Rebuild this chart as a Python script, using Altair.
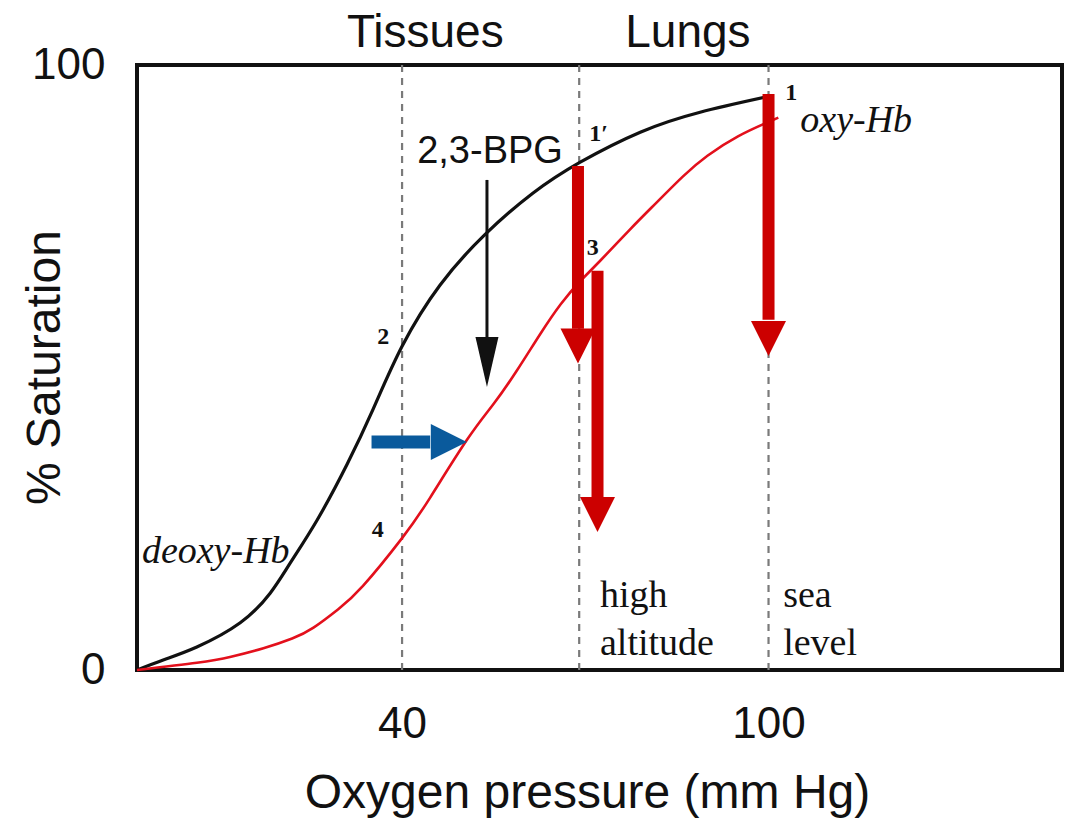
import altair as alt
import pandas as pd

# ---------------- data ----------------
# Oxygen pressure (mm Hg) vs % saturation
black_x = [-3.4, 1.0, 6.4, 13.5, 18.4, 21.7, 26.1, 31.0, 35.3, 40.0, 46.2, 53.6, 61.4, 69.1, 79.0, 88.8, 100.0]
black_y = [0.0, 1.7, 3.8, 7.8, 12.7, 17.7, 24.8, 34.0, 43.2, 53.5, 63.6, 72.0, 78.8, 83.9, 88.9, 92.2, 94.8]

red_x = [-3.4, 6.4, 12.0, 17.3, 22.0, 25.5, 29.5, 33.6, 40.0, 44.6, 50.6, 55.0, 58.8, 62.6, 66.0, 69.2, 72.4, 77.3, 81.7, 86.0, 90.0, 95.0, 99.8, 101.6]
red_y = [0.0, 1.2, 2.2, 3.6, 5.2, 7.0, 10.0, 13.9, 21.8, 28.5, 38.0, 44.0, 49.5, 55.5, 60.5, 64.3, 67.6, 72.8, 77.3, 81.6, 85.0, 88.2, 90.5, 91.3]

# dashed reference pressures (tissues, high altitude lungs, sea level lungs)
ref_x = [40, 69, 100]

# red arrows (drop in saturation)
red_arrow_x = [68.8, 72.0, 100.0]
red_arrow_top = [83.3, 66.0, 95.2]
red_arrow_base = [56.4, 28.6, 57.9]
red_arrow_tip = [50.7, 22.8, 51.7]

# black 2,3-BPG arrow
bpg_x = [53.9]
bpg_top = [81.0]
bpg_base = [55.0]
bpg_tip = [46.8]

# blue right shift arrow
blue_y = [37.7]
blue_start = [35.0]
blue_base = [44.6]
blue_tip = [50.7]

# text annotations
sans_text = ["Tissues", "Lungs", "2,3-BPG"]
sans_x = [43.8, 86.8, 54.4]
sans_y = [103.0, 103.0, 83.8]
sans_size = [46, 46, 38]

num_text = ["2", "4", "1′", "3", "1"]
num_x = [36.9, 36.0, 72.2, 71.2, 103.7]
num_y = [55.0, 23.1, 88.6, 69.8, 95.4]

ital_text = ["deoxy-Hb", "oxy-Hb"]
ital_x = [-2.6, 105.2]
ital_y = [17.7, 88.9]

serif_text = ["high", "altitude", "sea", "level"]
serif_x = [72.4, 72.4, 102.4, 102.4]
serif_y = [10.4, 2.5, 10.4, 2.5]

x_ticks = [40, 100]
y_ticks = [0, 100]

# ---------------- chart ----------------
XS = alt.Scale(domain=[-3.4, 148.05], nice=False, zero=False)
YS = alt.Scale(domain=[0, 100], nice=False, zero=False)

SANS = "Liberation Sans"
SERIF = "Liberation Serif"

AX = alt.Axis(values=x_ticks, ticks=False, domain=False, grid=False,
              labelFont=SANS, labelFontSize=44, labelColor="#111",
              labelPadding=32, labelBaseline="top",
              titleFont=SANS, titleFontSize=48, titleFontWeight="normal",
              titleColor="#111", titleX=450, titleY=137,
              titleBaseline="alphabetic")
AY = alt.Axis(values=y_ticks, ticks=False, domain=False, grid=False,
              labelFont=SANS, labelFontSize=44, labelColor="#111",
              labelPadding=32,
              titleFont=SANS, titleFontSize=48, titleFontWeight="normal",
              titleColor="#111", titleX=-92, titleY=302,
              titleBaseline="middle", titleAngle=-90)
XT = "Oxygen pressure (mm Hg)"
YT = "% Saturation"


def X(f):
    return alt.X(f, scale=XS, axis=AX, title=XT)


def Y(f):
    return alt.Y(f, scale=YS, axis=AY, title=YT)


curves = pd.DataFrame(
    {"p": black_x + red_x,
     "s": black_y + red_y,
     "curve": ["oxy"] * len(black_x) + ["bpg"] * len(red_x)}
)

black_line = alt.Chart(curves[curves.curve == "oxy"]).mark_line(
    color="#111111", strokeWidth=3.2, interpolate="natural"
).encode(x=X("p:Q"), y=Y("s:Q"))

red_line = alt.Chart(curves[curves.curve == "bpg"]).mark_line(
    color="#e3101c", strokeWidth=2.6, interpolate="natural"
).encode(x=X("p:Q"), y=Y("s:Q"))

refs = pd.DataFrame({"p": ref_x, "s": [0] * len(ref_x), "hi": [100] * len(ref_x)})
ref_rules = alt.Chart(refs).mark_rule(
    color="#7a7a7a", strokeWidth=2.2, strokeDash=[7, 6]
).encode(x=X("p:Q"), y=Y("s:Q"), y2="hi:Q")

red_arr = pd.DataFrame({
    "p": red_arrow_x, "s": red_arrow_top, "base": red_arrow_base,
    "head": [(b + t) / 2 for b, t in zip(red_arrow_base, red_arrow_tip)],
})
red_shafts = alt.Chart(red_arr).mark_rule(color="#cc0000", strokeWidth=12).encode(
    x=X("p:Q"), y=Y("s:Q"), y2="base:Q"
)
DOWN = "M-1,-1L1,-1L0,1Z"
red_heads = alt.Chart(red_arr).mark_point(
    shape=DOWN, filled=True, color="#cc0000", opacity=1, size=35 * 35, strokeWidth=0
).encode(x=X("p:Q"), y=Y("head:Q"))

bpg = pd.DataFrame({"p": bpg_x, "s": bpg_top, "base": bpg_base,
                    "head": [(b + t) / 2 for b, t in zip(bpg_base, bpg_tip)]})
bpg_shaft = alt.Chart(bpg).mark_rule(color="#111111", strokeWidth=3).encode(
    x=X("p:Q"), y=Y("s:Q"), y2="base:Q"
)
bpg_head = alt.Chart(bpg).mark_point(
    shape="M-0.46,-1L0.46,-1L0,1Z", filled=True, color="#111111", opacity=1,
    size=50 * 50, strokeWidth=0
).encode(x=X("p:Q"), y=Y("head:Q"))

blue = pd.DataFrame({"s": blue_y, "p": blue_start, "base": blue_base,
                     "head": [(b + t) / 2 for b, t in zip(blue_base, blue_tip)]})
blue_shaft = alt.Chart(blue).mark_rule(color="#0a5a9c", strokeWidth=13).encode(
    y=Y("s:Q"), x=X("p:Q"), x2="base:Q"
)
blue_head = alt.Chart(blue).mark_point(
    shape="M-1,-1L1,0L-1,1Z", filled=True, color="#0a5a9c", opacity=1,
    size=36 * 36, strokeWidth=0
).encode(x=X("head:Q"), y=Y("s:Q"))

sans_df = pd.DataFrame({"t": sans_text, "p": sans_x, "s": sans_y, "fs": sans_size})
sans_lbl = alt.Chart(sans_df).mark_text(
    font=SANS, color="#111111", align="center", baseline="alphabetic"
).encode(
    x=X("p:Q"), y=Y("s:Q"), text="t:N",
    size=alt.Size("fs:Q", scale=None, legend=None),
)

num_df = pd.DataFrame({"t": num_text, "p": num_x, "s": num_y})
num_lbl = alt.Chart(num_df).mark_text(
    font=SERIF, fontSize=24, fontWeight="bold", color="#111111",
    align="center", baseline="middle"
).encode(x=X("p:Q"), y=Y("s:Q"), text="t:N")

ital_df = pd.DataFrame({"t": ital_text, "p": ital_x, "s": ital_y})
ital_lbl = alt.Chart(ital_df).mark_text(
    font=SERIF, fontSize=38, fontStyle="italic", color="#111111",
    align="left", baseline="alphabetic"
).encode(x=X("p:Q"), y=Y("s:Q"), text="t:N")

serif_df = pd.DataFrame({"t": serif_text, "p": serif_x, "s": serif_y})
serif_lbl = alt.Chart(serif_df).mark_text(
    font=SERIF, fontSize=38, color="#111111", align="left", baseline="alphabetic"
).encode(x=X("p:Q"), y=Y("s:Q"), text="t:N")

chart = alt.layer(
    ref_rules, black_line, red_line,
    red_shafts, red_heads, bpg_shaft, bpg_head, blue_shaft, blue_head,
    sans_lbl, num_lbl, ital_lbl, serif_lbl,
).properties(
    width=925, height=605,
    autosize=alt.AutoSizeParams(type="none"),
    padding={"left": 129, "top": 57, "right": 5, "bottom": 150},
    background="white",
).configure_view(
    stroke="#111111", strokeWidth=4
)

chart.save("out.html", embed_options={"renderer": "svg", "actions": False})
